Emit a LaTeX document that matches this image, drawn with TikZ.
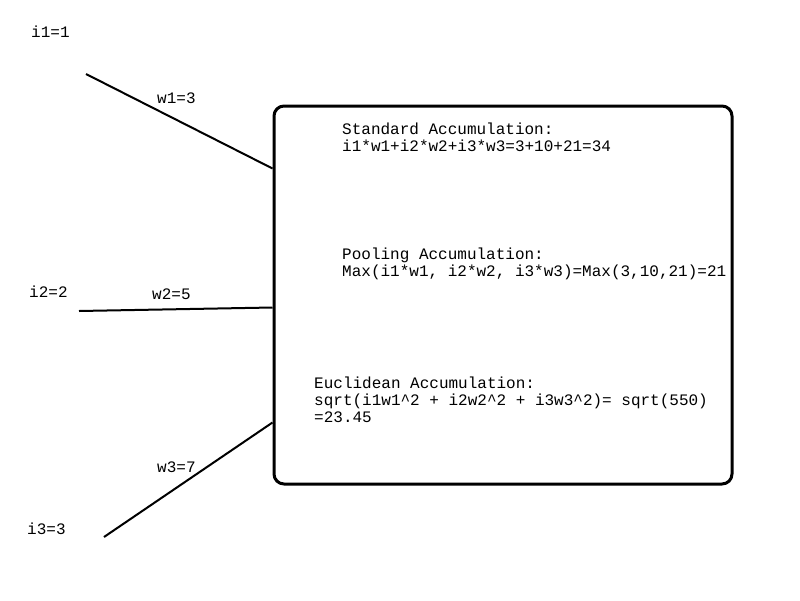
\documentclass[tikz,border=0pt]{standalone}
\usepackage{fontspec}
\setmonofont{Liberation Mono}
\usetikzlibrary{calc, positioning}

\begin{document}
\begin{tikzpicture}[x=1pt, y=-1pt,
    lbl/.style={font=\ttfamily\fontsize{16}{17}\selectfont, inner sep=0pt,
      anchor=base west, align=left},
    accbox/.style={draw, line width=3pt, rounded corners=10pt,
      minimum width=458pt, minimum height=378pt, inner sep=0pt},
    wire/.style={line width=2pt},
  ]
    \useasboundingbox (0,0) rectangle (800,600);
    \node[accbox] (acc) at (503,295) {};

    % inputs
    \node[lbl] (i1) at (31,37) {i1=1};
    \node[lbl] (i2) at (29,297) {i2=2};
    \node[lbl] (i3) at (27,534) {i3=3};
    \coordinate (p1) at (86,74);
    \coordinate (p2) at (79,311);
    \coordinate (p3) at (104,537);
    \coordinate (e1) at ($(acc.north west)+(0,64)$);
    \coordinate (e2) at ($(acc.north west)+(0,203)$);
    \coordinate (e3) at ($(acc.north west)+(0,318)$);
    \draw[wire] (p1) -- (e1);
    \draw[wire] (p2) -- (e2);
    \draw[wire] (p3) -- (e3);
    \node[lbl] (w1) at (157,103) {w1=3};
    \node[lbl] (w2) at (152,299) {w2=5};
    \node[lbl] (w3) at (157,472) {w3=7};

    % accumulations (base = last line)
    \node[lbl] (std) at (342,151) {Standard Accumulation:\\
      i1*w1+i2*w2+i3*w3=3+10+21=34};
    \node[lbl] (pool) at (342,276) {Pooling Accumulation:\\
      Max(i1*w1, i2*w2, i3*w3)=Max(3,10,21)=21};
    \node[lbl] (eucl) at (314,422) {Euclidean Accumulation:\\
      sqrt(i1w1\textasciicircum2 + i2w2\textasciicircum2 + i3w3\textasciicircum2)= sqrt(550)\\
      =23.45};
\end{tikzpicture}
\end{document}
